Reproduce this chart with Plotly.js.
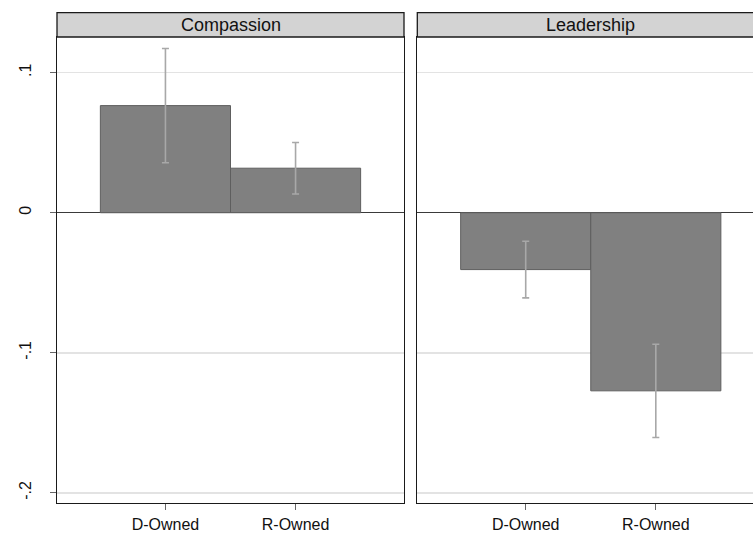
<!DOCTYPE html>
<html>
<head>
<meta charset="utf-8">
<script src="https://cdn.plot.ly/plotly-3.0.1.min.js"></script>
<style>html,body{margin:0;padding:0;background:#fff;}#chart{width:753px;height:533px;}</style>
</head>
<body>
<div id="chart"></div>
<script>
// Data
var categories = ["D-Owned", "R-Owned"];
var panelTitles = ["Compassion", "Leadership"];
var compassion = [0.0765, 0.0318];
var compassionErr = [0.0408, 0.0184];
var leadership = [-0.0406, -0.1272];
var leadershipErr = [0.0202, 0.0333];
var yTickVals = [0.1, 0, -0.1, -0.2];
var yTickText = [".1", "0", "-.1", "-.2"];

var FONT = "Liberation Sans, Arial, sans-serif";
var barColor = "#808080";
var barLine = "#5e5e5e";
var errColor = "#a8a8a8";

function barTrace(vals, errs, xa, ya) {
  return {
    type: "bar", x: categories, y: vals, xaxis: xa, yaxis: ya,
    width: 1,
    marker: {color: barColor, line: {color: barLine, width: 1}},
    error_y: {type: "data", array: errs, visible: true, color: errColor, thickness: 1.6, width: 3.5},
    hoverinfo: "none", showlegend: false
  };
}

var data = [
  barTrace(compassion, compassionErr, "x", "y"),
  barTrace(leadership, leadershipErr, "x2", "y2")
];

var W = 753, H = 533;
var mL = 57, mR = 0, mT = 36.7, mB = 29.7;
var pw = W - mL - mR, ph = H - mT - mB;
var leftEnd = 347 / pw;
var rightStart = (417.3 - mL) / pw;
var yRange = [-0.2073, 0.1255];
var hdrTop = 1 + 24.4 / ph;

var axCommon = {
  showline: true, linecolor: "#1a1a1a", linewidth: 1.3,
  ticks: "outside", ticklen: 6, tickcolor: "#666", tickwidth: 1.2,
  tickfont: {family: FONT, size: 16, color: "#111"},
  showgrid: false, zeroline: false, fixedrange: true
};

var yCommon = Object.assign({}, axCommon, {
  range: yRange, tickvals: yTickVals, ticktext: yTickText,
  showgrid: true, gridcolor: "#e3e3e3", gridwidth: 1.5,
  zeroline: true, zerolinecolor: "#3a3a3a", zerolinewidth: 1.4,
  mirror: true
});

var layout = {
  width: W, height: H,
  margin: {l: mL, r: mR, t: mT, b: mB, pad: 0},
  paper_bgcolor: "#fff", plot_bgcolor: "#fff",
  bargap: 0,
  font: {family: FONT, size: 16, color: "#111"},
  xaxis: Object.assign({}, axCommon, {domain: [0, leftEnd], type: "category", range: [-0.8333, 1.8333], anchor: "y", mirror: true}),
  xaxis2: Object.assign({}, axCommon, {domain: [rightStart, 1], type: "category", range: [-0.8333, 1.747], anchor: "y2", mirror: true}),
  yaxis: Object.assign({}, yCommon, {domain: [0, 1], anchor: "x", tickangle: -90, ticklabelstandoff: 12}),
  yaxis2: Object.assign({}, yCommon, {domain: [0, 1], anchor: "x2", showticklabels: false, ticks: "", mirror: false}),
  shapes: [
    {type: "rect", xref: "paper", yref: "paper", x0: 0, x1: leftEnd, y0: 1, y1: hdrTop,
     fillcolor: "#d3d3d3", line: {color: "#1a1a1a", width: 1.3}, layer: "above"},
    {type: "rect", xref: "paper", yref: "paper", x0: rightStart, x1: 1.05, y0: 1, y1: hdrTop,
     fillcolor: "#d3d3d3", line: {color: "#1a1a1a", width: 1.3}, layer: "above"}
  ],
  annotations: [
    {xref: "paper", yref: "paper", x: leftEnd / 2, y: (1 + hdrTop) / 2, text: panelTitles[0],
     showarrow: false, xanchor: "center", yanchor: "middle", font: {family: FONT, size: 18, color: "#111"}},
    {xref: "paper", yref: "paper", x: (rightStart + (417.3 - mL + 347) / pw) / 2, y: (1 + hdrTop) / 2, text: panelTitles[1],
     showarrow: false, xanchor: "center", yanchor: "middle", font: {family: FONT, size: 18, color: "#111"}}
  ]
};

Plotly.newPlot("chart", data, layout, {staticPlot: true, displayModeBar: false});
</script>
</body>
</html>
